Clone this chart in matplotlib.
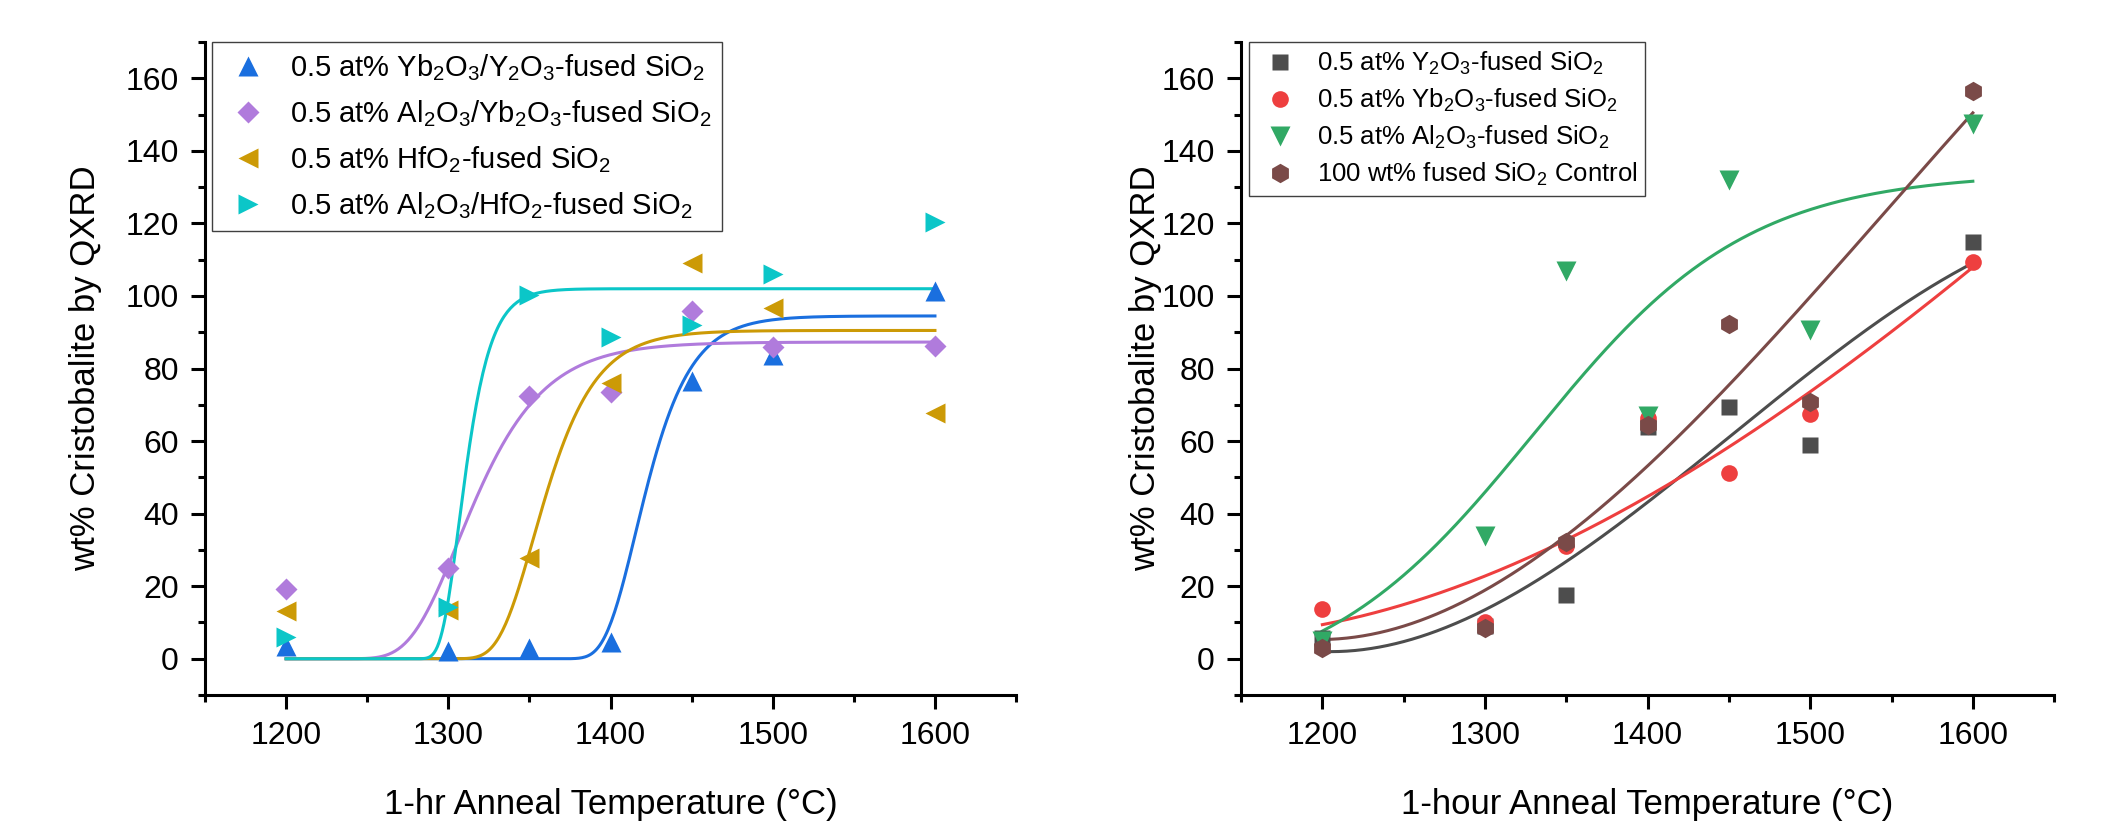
import numpy as np
import matplotlib
matplotlib.use('Agg')
import matplotlib.pyplot as plt
from matplotlib.ticker import MultipleLocator

plt.rcParams['font.family'] = ['Liberation Sans', 'DejaVu Sans']
plt.rcParams['mathtext.fontset'] = 'custom'
plt.rcParams['mathtext.rm'] = 'Liberation Sans'
plt.rcParams['mathtext.it'] = 'Liberation Sans:italic'
plt.rcParams['mathtext.bf'] = 'Liberation Sans:bold'

# anneal temperatures (C)
temps = [1200, 1300, 1350, 1400, 1450, 1500, 1600]

# left panel: co-doped / HfO2 glasses, wt% cristobalite
yb_y = [3.5, 2.0, 3.1, 4.7, 76.6, 83.7, 101.3]
al_yb = [19.1, 25.0, 72.5, 73.4, 95.8, 86.0, 86.2]
hf = [13.2, 13.4, 27.8, 75.9, 109.0, 96.8, 67.8]
al_hf = [6.1, 14.3, 100.2, 88.7, 92.1, 106.1, 120.5]

# sigmoid fits: plateau, centre (C), rate (1/C)
fit_yb_y = [94.5, 1415.5, 0.053]
fit_al_yb = [87.3, 1305.8, 0.034]
fit_hf = [90.5, 1352.5, 0.047]
fit_al_hf = [102.0, 1306.6, 0.092]

# right panel: single dopants + control
y2o3 = [5.6, 9.0, 17.6, 64.0, 69.4, 58.8, 114.9]
yb2o3 = [13.7, 10.0, 31.2, 66.5, 51.2, 67.6, 109.4]
al2o3 = [5.0, 33.7, 106.9, 67.0, 132.0, 90.7, 147.3]
control = [3.1, 8.6, 32.3, 64.3, 92.4, 70.9, 156.4]

# cubic fits, coefficients in t = (T - 1200)/100
fit_y2o3 = [2.0, -1.558, 15.05, -1.992]
fit_yb2o3 = [9.4, 8.625, 5.033, -0.258]
fit_control = [5.3, 0.503, 14.48, -1.383]
# logistic fit for Al2O3: low, high, centre, width
fit_al2o3 = [-10.0, 134.0, 1330.0, 66.0]

left_labels = ['0.5 at% Yb$_2$O$_3$/Y$_2$O$_3$-fused SiO$_2$',
               '0.5 at% Al$_2$O$_3$/Yb$_2$O$_3$-fused SiO$_2$',
               '0.5 at% HfO$_2$-fused SiO$_2$',
               '0.5 at% Al$_2$O$_3$/HfO$_2$-fused SiO$_2$']
right_labels = ['0.5 at% Y$_2$O$_3$-fused SiO$_2$',
                '0.5 at% Yb$_2$O$_3$-fused SiO$_2$',
                '0.5 at% Al$_2$O$_3$-fused SiO$_2$',
                '100 wt% fused SiO$_2$ Control']


def gompertz(T, p):
    A, xc, k = p
    return A * np.exp(-np.exp(-k * (T - xc)))


def cubic(T, c):
    t = (T - 1200) / 100.0
    return c[0] + c[1] * t + c[2] * t ** 2 + c[3] * t ** 3


def logistic(T, p):
    lo, hi, x0, dx = p
    return lo + (hi - lo) / (1 + np.exp(-(T - x0) / dx))


def style_axes(ax):
    for s in ['top', 'right']:
        ax.spines[s].set_visible(False)
    for s in ['left', 'bottom']:
        ax.spines[s].set_linewidth(2.2)
    ax.set_xlim(1150, 1650)
    ax.set_ylim(-10, 170)
    ax.xaxis.set_major_locator(MultipleLocator(100))
    ax.xaxis.set_minor_locator(MultipleLocator(50))
    ax.yaxis.set_major_locator(MultipleLocator(20))
    ax.yaxis.set_minor_locator(MultipleLocator(10))
    ax.tick_params(which='major', length=10, width=2.2, labelsize=23, direction='out')
    ax.tick_params(which='minor', length=5, width=2.2, direction='out')
    ax.tick_params(axis='x', which='major', pad=9)
    ax.tick_params(axis='y', which='major', pad=9)


fig = plt.figure(figsize=(21.01, 8.23), dpi=100)
ax1 = fig.add_axes([0.0976, 0.1555, 0.386, 0.7934])
ax2 = fig.add_axes([0.5907, 0.1555, 0.387, 0.7934])

Tf = np.linspace(1200, 1600, 400)

# ---- left panel
colors_l = ['#1A6FDF', '#B07BDC', '#CC9A06', '#0BC6C8']
markers_l = ['^', 'D', '<', '>']
msize_l = [15, 11.5, 15, 15]
series_l = [yb_y, al_yb, hf, al_hf]
fits_l = [fit_yb_y, fit_al_yb, fit_hf, fit_al_hf]

for vals, p, c, m, ms, lab in zip(series_l, fits_l, colors_l, markers_l, msize_l, left_labels):
    ax1.plot(Tf, gompertz(Tf, p), color=c, lw=2.2, zorder=2)
    ax1.plot(temps, vals, ls='none', marker=m, ms=ms, color=c, mec='none', label=lab, zorder=3)

style_axes(ax1)
ax1.set_xlabel('1-hr Anneal Temperature (°C)', fontsize=25)
ax1.set_ylabel('wt% Cristobalite by QXRD', fontsize=25)
ax1.xaxis.set_label_coords(0.5, -0.142)
ax1.yaxis.set_label_coords(-0.127, 0.5)
leg1 = ax1.legend(loc='upper left', bbox_to_anchor=(0.008, 1.0), borderaxespad=0,
                  fontsize=21, fancybox=False, edgecolor='#404040', framealpha=1,
                  numpoints=1, borderpad=0.35, handlelength=1.8, handletextpad=0.55,
                  labelspacing=0.52)
leg1.get_frame().set_linewidth(1.0)

# ---- right panel
colors_r = ['#4D4D4D', '#EE3F3F', '#31A965', '#7A4A48']
markers_r = ['s', 'o', 'v', 'h']
msize_r = [11, 12, 15, 14]
series_r = [y2o3, yb2o3, al2o3, control]
curves_r = [cubic(Tf, fit_y2o3), cubic(Tf, fit_yb2o3),
            logistic(Tf, fit_al2o3), cubic(Tf, fit_control)]

for vals, cv, c, m, ms, lab in zip(series_r, curves_r, colors_r, markers_r, msize_r, right_labels):
    ax2.plot(Tf, cv, color=c, lw=2.2, zorder=2)
    ax2.plot(temps, vals, ls='none', marker=m, ms=ms, color=c, mec='none', label=lab, zorder=3)

style_axes(ax2)
ax2.set_xlabel('1-hour Anneal Temperature (°C)', fontsize=25)
ax2.set_ylabel('wt% Cristobalite by QXRD', fontsize=25)
ax2.xaxis.set_label_coords(0.5, -0.142)
ax2.yaxis.set_label_coords(-0.097, 0.5)
leg2 = ax2.legend(loc='upper left', bbox_to_anchor=(0.01, 1.0), borderaxespad=0,
                  fontsize=18.5, fancybox=False, edgecolor='#404040', framealpha=1,
                  numpoints=1, borderpad=0.3, handlelength=1.8, handletextpad=0.55,
                  labelspacing=0.38)
leg2.get_frame().set_linewidth(1.0)

fig.savefig('out.png', dpi=100)
